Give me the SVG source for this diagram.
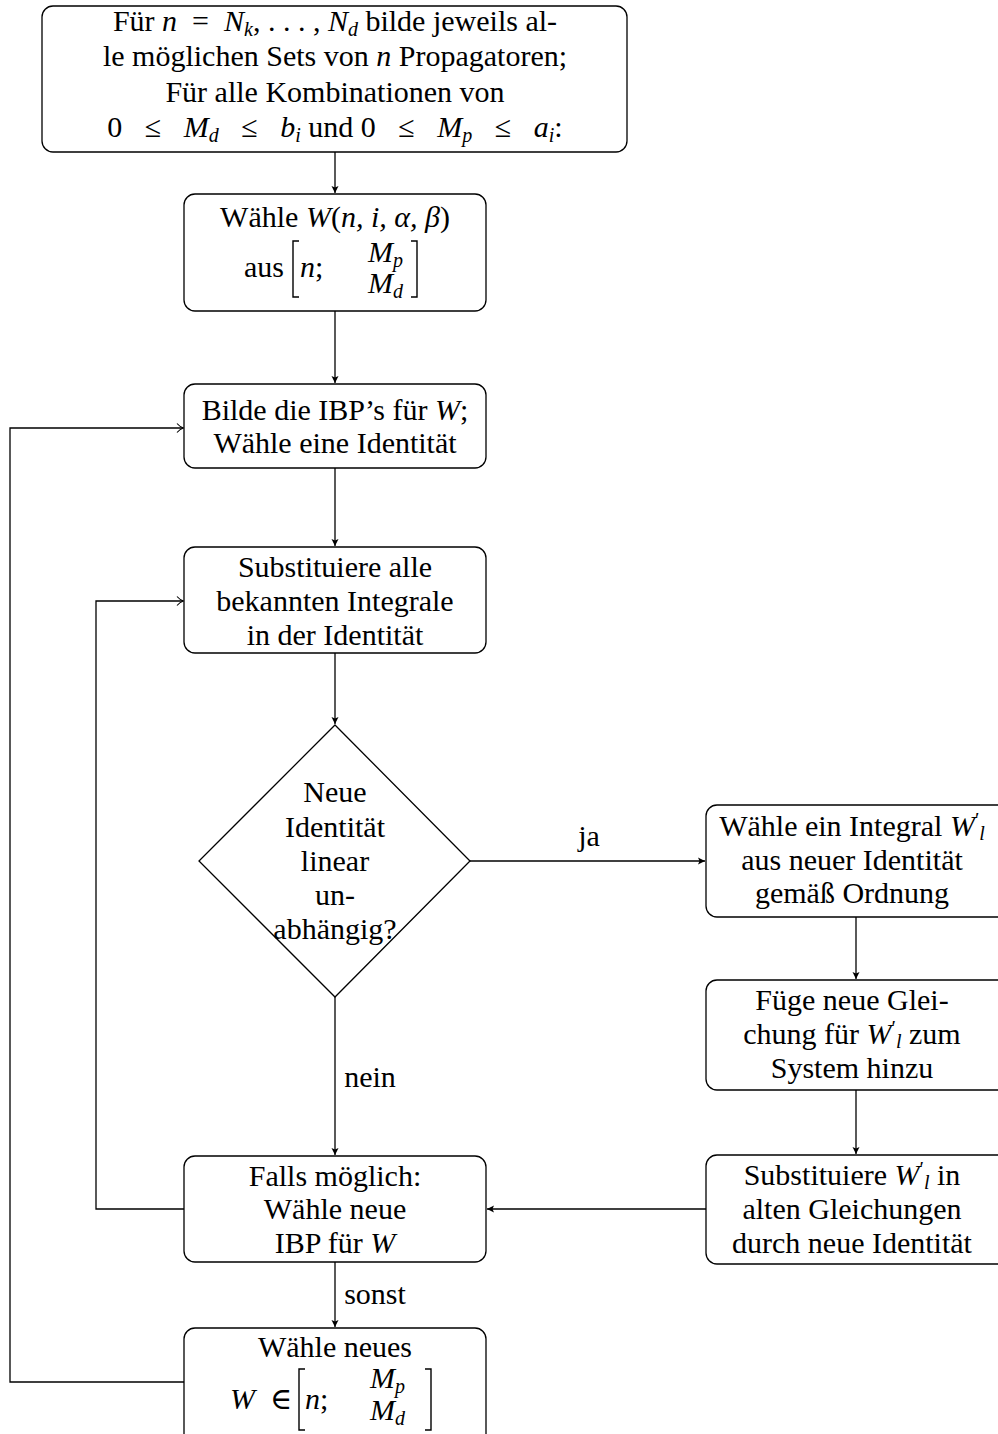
<svg xmlns="http://www.w3.org/2000/svg" width="998" height="1434" viewBox="0 0 998 1434">
<style>
text{font-family:"Liberation Serif","Times New Roman","DejaVu Serif",serif;font-size:30px;fill:#000}
.c{text-anchor:middle}
.i{font-style:italic}
.s{font-size:20px}
.box{fill:#fff;stroke:#000;stroke-width:1.3}
.ln{fill:none;stroke:#000;stroke-width:1.3}
.br{fill:none;stroke:#000;stroke-width:1.4}
</style>
<defs>
<marker id="fa" markerUnits="userSpaceOnUse" markerWidth="10" markerHeight="10" refX="7" refY="0" viewBox="-1 -5 10 10" orient="auto">
<path d="M0,-3.5 L7,0 L0,3.5 L1.5,0 Z" fill="#000"/>
</marker>
<marker id="oa" markerUnits="userSpaceOnUse" markerWidth="12" markerHeight="12" refX="6" refY="0" viewBox="-2 -6 10 12" orient="auto">
<path d="M0,-4.5 Q3,-1 6.5,0 Q3,1 0,4.5" fill="none" stroke="#000" stroke-width="1.1"/>
</marker>
</defs>

<g id="connectors">
<path class="ln" d="M335,152 V193" marker-end="url(#fa)"/>
<path class="ln" d="M335,311 V383" marker-end="url(#fa)"/>
<path class="ln" d="M335,468 V546" marker-end="url(#fa)"/>
<path class="ln" d="M335,653 V724" marker-end="url(#fa)"/>
<path class="ln" d="M470,861 H705" marker-end="url(#fa)"/>
<path class="ln" d="M856,917 V979" marker-end="url(#fa)"/>
<path class="ln" d="M856,1090 V1154" marker-end="url(#fa)"/>
<path class="ln" d="M706,1209 H487" marker-end="url(#fa)"/>
<path class="ln" d="M335,997 V1155" marker-end="url(#fa)"/>
<path class="ln" d="M335,1262 V1327" marker-end="url(#fa)"/>
<path class="ln" d="M184,1209 H96 V601 H183" marker-end="url(#oa)"/>
<path class="ln" d="M184,1382 H10 V428 H183" marker-end="url(#oa)"/>
<text class="c" x="589" y="846">ja</text>
<text class="c" x="370" y="1087">nein</text>
<text class="c" x="375" y="1304">sonst</text>
</g>

<g id="start">
<rect class="box" x="42" y="6" width="585" height="146" rx="11"/>
<text class="c" x="335" y="31">Für <tspan class="i">n</tspan>&#160;&#160;=&#160;&#160;<tspan class="i">N</tspan><tspan class="s i" dy="5">k</tspan><tspan dy="-5">, . . . , </tspan><tspan class="i">N</tspan><tspan class="s i" dy="5">d</tspan><tspan dy="-5"> bilde jeweils al-</tspan></text>
<text class="c" x="335" y="66">le möglichen Sets von <tspan class="i">n</tspan> Propagatoren;</text>
<text class="c" x="335" y="102">Für alle Kombinationen von</text>
<text class="c" x="335" y="137">0&#160;&#160;&#160;≤&#160;&#160;&#160;<tspan class="i">M</tspan><tspan class="s i" dy="5">d</tspan><tspan dy="-5">&#160;&#160;&#160;≤&#160;&#160;&#160;</tspan><tspan class="i">b</tspan><tspan class="s i" dy="5">i</tspan><tspan dy="-5"> und 0&#160;&#160;&#160;≤&#160;&#160;&#160;</tspan><tspan class="i">M</tspan><tspan class="s i" dy="5">p</tspan><tspan dy="-5">&#160;&#160;&#160;≤&#160;&#160;&#160;</tspan><tspan class="i">a</tspan><tspan class="s i" dy="5">i</tspan><tspan dy="-5">:</tspan></text>
</g>

<g id="waehle">
<rect class="box" x="184" y="194" width="302" height="117" rx="11"/>
<text class="c" x="335" y="227">Wähle <tspan class="i">W</tspan>(<tspan class="i">n, i, α, β</tspan>)</text>
<text x="244" y="277">aus</text>
<path class="br" d="M299,241 H293 V297 H299"/>
<text x="300" y="277"><tspan class="i">n</tspan>;</text>
<text x="368" y="262"><tspan class="i">M</tspan><tspan class="s i" dy="5">p</tspan></text>
<text x="368" y="293"><tspan class="i">M</tspan><tspan class="s i" dy="5">d</tspan></text>
<path class="br" d="M411,241 H417 V297 H411"/>
</g>

<g id="ibp">
<rect class="box" x="184" y="384" width="302" height="84" rx="11"/>
<text class="c" x="335" y="420">Bilde die IBP’s für <tspan class="i">W</tspan>;</text>
<text class="c" x="335" y="453">Wähle eine Identität</text>
</g>

<g id="subst">
<rect class="box" x="184" y="547" width="302" height="106" rx="11"/>
<text class="c" x="335" y="577">Substituiere alle</text>
<text class="c" x="335" y="611">bekannten Integrale</text>
<text class="c" x="335" y="645">in der Identität</text>
</g>

<g id="decision">
<polygon class="box" points="335,725 470,861 335,997 199,861"/>
<text class="c" x="335" y="802">Neue</text>
<text class="c" x="335" y="837">Identität</text>
<text class="c" x="335" y="871">linear</text>
<text class="c" x="335" y="905">un-</text>
<text class="c" x="335" y="939">abhängig?</text>
</g>

<g id="integral">
<rect class="box" x="706" y="805" width="310" height="112" rx="11"/>
<text class="c" x="852" y="836">Wähle ein Integral <tspan class="i">W</tspan><tspan class="s" dy="-9">′</tspan><tspan class="s i" dy="13">l</tspan><tspan dy="-4"> </tspan></text>
<text class="c" x="852" y="870">aus neuer Identität</text>
<text class="c" x="852" y="903">gemäß Ordnung</text>
</g>

<g id="fuege">
<rect class="box" x="706" y="980" width="310" height="110" rx="11"/>
<text class="c" x="852" y="1010">Füge neue Glei-</text>
<text class="c" x="852" y="1044">chung für <tspan class="i">W</tspan><tspan class="s" dy="-9">′</tspan><tspan class="s i" dy="13">l</tspan><tspan dy="-4"> zum</tspan></text>
<text class="c" x="852" y="1078">System hinzu</text>
</g>

<g id="substW">
<rect class="box" x="706" y="1155" width="310" height="109" rx="11"/>
<text class="c" x="852" y="1185">Substituiere <tspan class="i">W</tspan><tspan class="s" dy="-9">′</tspan><tspan class="s i" dy="13">l</tspan><tspan dy="-4"> in</tspan></text>
<text class="c" x="852" y="1219">alten Gleichungen</text>
<text class="c" x="852" y="1253">durch neue Identität</text>
</g>

<g id="falls">
<rect class="box" x="184" y="1156" width="302" height="106" rx="11"/>
<text class="c" x="335" y="1186">Falls möglich:</text>
<text class="c" x="335" y="1219">Wähle neue</text>
<text class="c" x="335" y="1253">IBP für <tspan class="i">W</tspan></text>
</g>

<g id="neues">
<rect class="box" x="184" y="1328" width="302" height="120" rx="11"/>
<text class="c" x="335" y="1357">Wähle neues</text>
<text x="230" y="1409"><tspan class="i">W</tspan>&#160;&#160;∈</text>
<path class="br" d="M305,1369 H299 V1430 H305"/>
<text x="305" y="1409"><tspan class="i">n</tspan>;</text>
<text x="370" y="1388"><tspan class="i">M</tspan><tspan class="s i" dy="5">p</tspan></text>
<text x="370" y="1420"><tspan class="i">M</tspan><tspan class="s i" dy="5">d</tspan></text>
<path class="br" d="M425,1369 H431 V1430 H425"/>
</g>
</svg>
